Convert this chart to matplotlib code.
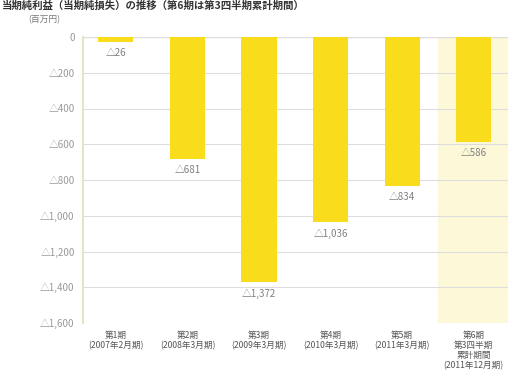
import matplotlib
matplotlib.use("Agg")
import matplotlib.pyplot as plt

plt.rcParams['font.family'] = ['Noto Sans CJK JP', 'DejaVu Sans']

categories = ["第1期\n(2007年2月期)", "第2期\n(2008年3月期)", "第3期\n(2009年3月期)",
              "第4期\n(2010年3月期)", "第5期\n(2011年3月期)",
              "第6期\n第3四半期\n累計期間\n(2011年12月期)"]
values = [-26, -681, -1372, -1036, -834, -586]
value_labels = ["△26", "△681", "△1,372", "△1,036", "△834", "△586"]
yticks = [0, -200, -400, -600, -800, -1000, -1200, -1400, -1600]
ytick_labels = ["0", "△200", "△400", "△600", "△800", "△1,000", "△1,200", "△1,400", "△1,600"]

W, H = 508, 389
fig = plt.figure(figsize=(W/100, H/100), dpi=100)
ax = fig.add_axes([83/W, 1-323/H, (W-83)/W, (323-37)/H])

x = list(range(len(values)))
ax.axvspan(4.5, 5.6, color='#fdf9d8', zorder=0)
ax.bar(x, values, width=0.49, color='#f9dc1c', zorder=2)
for xi, v, lab in zip(x, values, value_labels):
    ax.text(xi, v - 35, lab, ha='center', va='top', fontsize=7, color='#808080', zorder=3)

ax.set_ylim(-1600, 0)
ax.set_xlim(-0.46, 5.48)
ax.set_yticks(yticks)
ax.set_yticklabels(ytick_labels, fontsize=7, color='#999999')
ax.set_xticks(x)
ax.set_xticklabels(categories, fontsize=6.2, color='#555555', linespacing=1.15)
ax.tick_params(axis='both', length=0, pad=6)
ax.yaxis.grid(True, color='#dddddd', linewidth=0.8, zorder=1)
for s in ['top', 'right', 'bottom']:
    ax.spines[s].set_visible(False)
ax.spines['left'].set_color('#e6e4c8')
ax.spines['left'].set_linewidth(1.5)
ax.axhline(0, color='#dddddd', linewidth=1.0, zorder=1)

fig.text(28/W, 1-19.5/H, "(百万円)", fontsize=6.3, color='#777777', ha='left', va='center')
fig.text(2/W, 1.0 - 0.5/H, "当期純利益（当期純損失）の推移（第6期は第3四半期累計期間）",
         fontsize=7.5, fontweight='bold', color='#333333', ha='left', va='top')

fig.savefig("out.png", dpi=100)
